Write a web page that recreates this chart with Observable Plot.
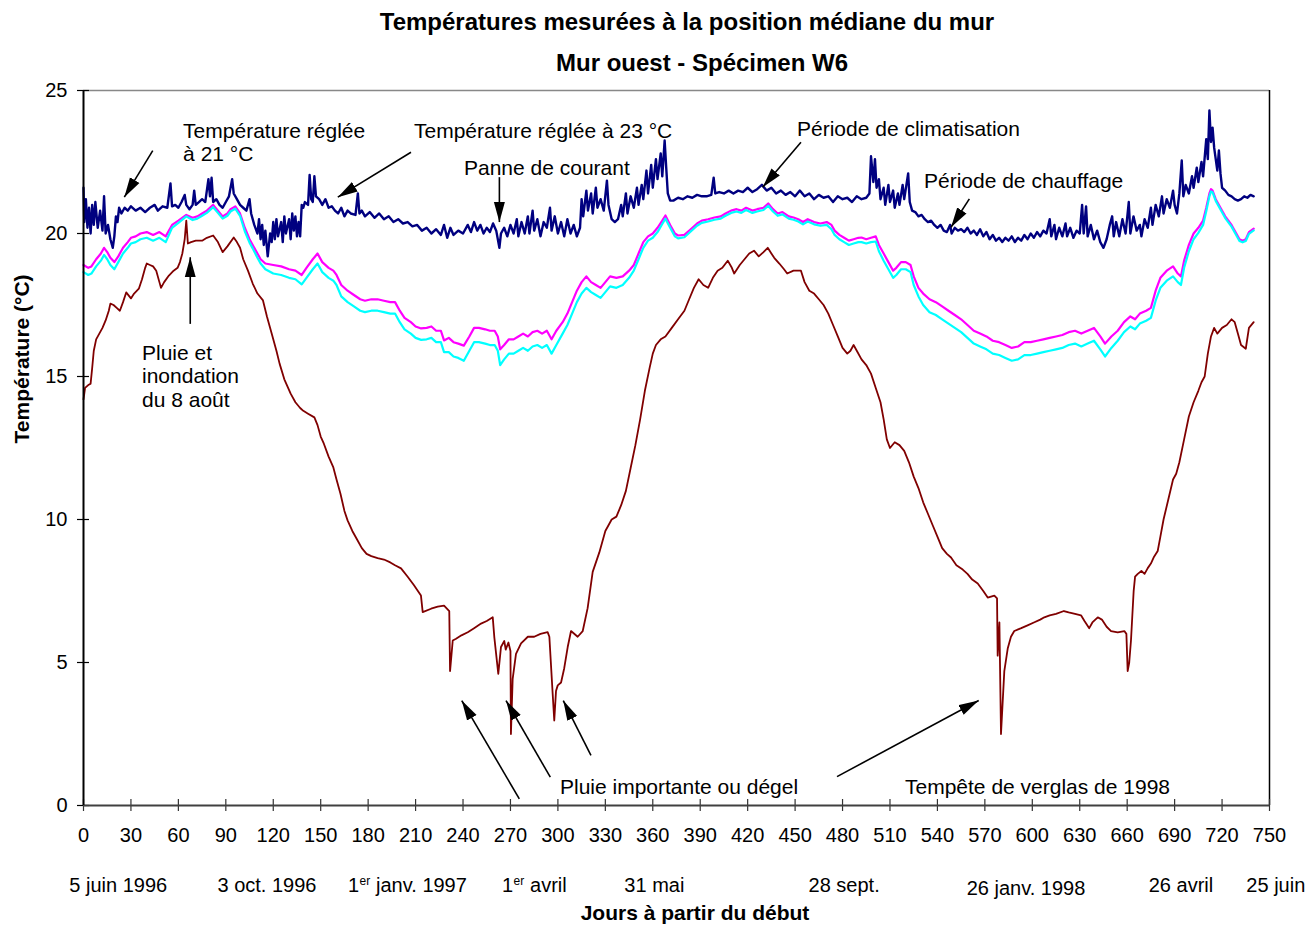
<!DOCTYPE html>
<html><head><meta charset="utf-8">
<script src="https://cdn.jsdelivr.net/npm/d3@7"></script>
<script src="https://cdn.jsdelivr.net/npm/@observablehq/plot@0.6"></script>
<style>
body{margin:0;background:#fff;font-family:Arial,"Liberation Sans",sans-serif;}
#wrap{position:relative;width:1310px;height:927px;}
.t{position:absolute;transform:translateX(-50%);white-space:nowrap;font-weight:bold;font-size:24px;line-height:24px;color:#000;}
#chart{position:absolute;left:0;top:80px;}
</style></head>
<body><div id="wrap">
<div class="t" style="left:687px;top:10px;">Températures mesurées à la position médiane du mur</div>
<div class="t" style="left:702px;top:51px;">Mur ouest - Spécimen W6</div>
<div id="chart"></div>
</div>
<script>
const xTicks = [0,30,60,90,120,150,180,210,240,270,300,330,360,390,420,450,480,510,540,570,600,630,660,690,720,750];
const yTicks = [0,5,10,15,20,25];

// [day, °C] — air/ambient side (dark blue)
const navy = [[0,21.6],[0.5,20.4],[1.5,21.2],[2.5,20.2],[3.5,20.9],[4.5,20.0],[5.5,21.0],[6.5,20.3],[7.5,21.1],[9,20.2],[10.5,20.8],[12,20.1],[13,21.3],[14,20.0],[15.5,20.3],[17,19.8],[18.5,19.5],[19.5,19.9],[20.5,20.6],[21.5,20.4],[22.5,20.9],[24,20.7],[26,20.9],[28,20.8],[30,20.95],[33,20.8],[36,20.9],[39,20.75],[42,20.9],[45,21.0],[47,20.8],[50,20.95],[53,20.9],[55,21.75],[56,20.95],[58,21.0],[60,20.9],[62,21.1],[64,21.35],[65,21.0],[67,20.85],[69,21.0],[70,21.5],[71,21.0],[73,21.1],[75,21.2],[77,21.1],[79,21.9],[80,21.3],[81,21.95],[82,21.1],[84,21.2],[86,21.0],[88,20.9],[90,21.1],[92,21.3],[94,21.9],[95,21.4],[97,21.2],[99,21.0],[101,20.9],[103,20.8],[105,21.2],[106,20.7],[108,20.3],[110,20.0],[111,20.5],[112,19.8],[113,20.3],[114,19.6],[115,20.1],[116.5,19.2],[118,20.0],[119,19.7],[120,20.4],[121,19.8],[122,20.5],[123,19.9],[125,20.4],[126,19.7],[127,20.6],[128,20.0],[130,20.5],[131,19.8],[132,20.7],[133,20.1],[134,20.6],[135,19.9],[136,20.4],[137,19.9],[138,21.0],[139,20.9],[140,21.1],[142,21.0],[143,22.05],[144,21.2],[145,21.1],[146,22.0],[147,21.3],[149,21.2],[151,21.0],[153,21.2],[155,20.9],[157,20.95],[159,20.8],[161,20.7],[163,20.9],[165,20.6],[167,20.8],[169,20.7],[172,20.65],[173.5,21.4],[174.5,20.7],[176,20.8],[178,20.6],[181,20.75],[184,20.55],[187,20.7],[190,20.5],[193,20.6],[196,20.4],[199,20.5],[202,20.35],[205,20.4],[208,20.25],[211,20.3],[214,20.1],[217,20.2],[220,20.0],[223,20.15],[226,19.95],[228,20.3],[230,19.85],[232,20.2],[234,19.95],[237,20.1],[240,20.0],[243,20.3],[245,20.05],[247,20.4],[249,20.1],[251,20.3],[253,20.0],[255,20.2],[257,20.05],[259,20.35],[261,20.1],[263,19.5],[264,20.0],[266,20.2],[268,19.9],[270,20.3],[272,20.0],[274,20.5],[275,19.9],[277,20.4],[279,20.0],[281,20.6],[282,20.0],[284,20.8],[285,20.1],[287,20.5],[289,19.9],[291,20.4],[293,20.2],[295,20.9],[296,20.1],[298,20.6],[300,20.0],[302,20.4],[304,19.9],[306,20.5],[308,20.0],[310,20.3],[312,19.9],[314,20.2],[315,21.2],[316,20.6],[318,21.5],[319,20.8],[321,21.4],[322,20.7],[324,21.6],[325,20.9],[327,21.2],[329,20.8],[331,21.85],[332,21.0],[334,20.5],[336,20.4],[338,20.5],[340,21.0],[341,20.6],[343,21.4],[344,20.7],[346,21.3],[348,20.9],[350,21.6],[351,21.0],[353,21.7],[354,21.2],[356,22.2],[357,21.4],[359,22.4],[360,21.6],[362,22.6],[363,21.9],[365,22.8],[366,22.0],[367.5,23.25],[368.5,22.3],[369.5,21.4],[371,21.15],[373,21.15],[376,21.25],[379,21.2],[382,21.3],[385,21.25],[388,21.35],[391,21.3],[394,21.3],[397,21.35],[398.5,21.95],[399.5,21.4],[402,21.45],[405,21.4],[408,21.5],[411,21.4],[414,21.5],[417,21.45],[420,21.6],[423,21.45],[426,21.55],[429,21.7],[432,21.5],[435,21.6],[438,21.4],[441,21.5],[444,21.35],[447,21.45],[450,21.3],[453,21.5],[456,21.3],[459,21.4],[462,21.2],[465,21.35],[468,21.25],[471,21.3],[474,21.1],[477,21.3],[480,21.2],[483,21.25],[486,21.1],[489,21.3],[492,21.2],[495,21.25],[497,21.4],[498,22.7],[499.5,21.8],[500.5,22.6],[501.5,21.6],[503,21.9],[504,21.2],[506,21.6],[507,21.0],[509,21.7],[510,21.1],[512,21.5],[513,20.9],[515,21.4],[516,21.0],[518,21.7],[519,21.2],[521.5,22.1],[522.5,21.1],[524,20.8],[526,20.75],[528,20.6],[530,20.65],[532,20.5],[534,20.4],[536,20.45],[538,20.3],[540,20.2],[542,20.3],[544,20.1],[546,20.05],[548,20.3],[549,20.0],[551,20.2],[553,20.1],[555,20.15],[557,20.05],[559,20.2],[561,20.0],[563,20.1],[565,19.95],[567,20.15],[569,19.9],[571,20.05],[573,19.8],[575,19.95],[577,19.75],[579,19.85],[581,19.7],[583,19.85],[585,19.75],[587,19.9],[589,19.7],[591,19.85],[593,19.75],[595,19.95],[597,19.8],[599,20.0],[601,19.85],[603,20.05],[605,19.9],[607,20.1],[609,20.0],[611,20.5],[612,19.9],[614,20.3],[615,19.8],[617,20.2],[619,19.9],[621,20.35],[622,19.9],[624,20.2],[626,19.85],[628,20.1],[630,20.0],[631.5,21.0],[632.5,20.0],[634,20.95],[635,19.9],[637,20.3],[639,19.8],[641,20.1],[643,19.7],[645,19.5],[647,19.8],[649,20.3],[650.5,20.6],[651.5,19.9],[653,20.4],[655,19.9],[657,20.5],[659,20.0],[661,21.1],[662,20.0],[664,20.6],[666,20.1],[668,20.3],[669,19.9],[671,20.5],[673,20.2],[675,20.9],[676,20.3],[678,21.0],[680,20.6],[682,21.3],[683,20.7],[685,21.2],[687,20.9],[689,21.5],[690,21.0],[691.5,20.7],[693,21.4],[694.5,22.55],[695.5,21.3],[697,21.7],[699,21.4],[701,22.0],[702,21.6],[704,22.3],[705,21.8],[707,22.5],[708,22.0],[710,23.3],[711,22.6],[712,24.3],[713,23.2],[714,23.7],[715,23.0],[716,22.6],[717,22.2],[718,22.9],[719,22.1],[720,21.6],[722,21.5],[724,21.35],[726,21.3],[728,21.2],[730,21.15],[732,21.2],[734,21.3],[736,21.25],[738,21.35],[740,21.3]];

// [day, °C] — magenta
const magenta = [[0,18.9],[3,18.8],[5,18.85],[8,19.1],[11,19.3],[13,19.5],[15,19.35],[17,19.15],[19.5,19.0],[22,19.2],[25,19.5],[28,19.7],[30,19.85],[33,19.9],[36,20.0],[40,20.05],[44,19.95],[48,20.05],[52,19.9],[56,20.3],[60,20.45],[65,20.65],[69,20.55],[72,20.6],[75,20.7],[78,20.8],[82,21.0],[85,20.8],[88,20.6],[91,20.7],[93,20.85],[96,20.95],[99,20.7],[102,20.2],[105,19.8],[107,19.6],[110,19.3],[112,19.1],[115,18.95],[120,18.9],[125,18.85],[130,18.75],[134,18.7],[138,18.55],[141,18.8],[145,19.1],[148,19.3],[151,19.0],[155,18.8],[158,18.7],[160,18.55],[163,18.2],[167,18.0],[171,17.85],[175,17.7],[178,17.65],[182,17.7],[186,17.7],[190,17.65],[194,17.6],[197,17.6],[200,17.3],[203,17.05],[207,16.9],[210,16.75],[213.5,16.68],[217,16.7],[220,16.75],[223,16.6],[226,16.6],[228,16.26],[231,16.35],[234,16.2],[237,16.15],[240.5,16.08],[244,16.4],[247,16.7],[250,16.7],[254,16.65],[257,16.6],[260,16.6],[262,16.4],[263.5,15.95],[266,16.1],[269,16.3],[272,16.3],[275,16.4],[278,16.5],[281,16.4],[284,16.55],[287,16.6],[290,16.5],[293,16.6],[296,16.3],[299,16.6],[303,16.9],[306,17.2],[309,17.6],[312,18.0],[315,18.3],[318,18.5],[321,18.3],[324,18.2],[327,18.1],[330,18.3],[333,18.5],[337,18.45],[341,18.5],[345,18.7],[348,18.9],[351,19.3],[354,19.7],[357,19.9],[360,20.0],[363,20.2],[366,20.45],[368,20.63],[371,20.3],[374,20.0],[376,19.93],[380,19.95],[384,20.15],[388,20.35],[391,20.45],[395,20.5],[399,20.56],[403,20.6],[406,20.7],[409.5,20.8],[413,20.85],[416,20.8],[419,20.9],[423,20.8],[426,20.85],[430,20.9],[433,21.05],[436,20.85],[439,20.7],[442,20.75],[446,20.6],[449,20.56],[452,20.5],[455,20.4],[458,20.5],[462,20.4],[466,20.35],[470,20.4],[473,20.3],[475,20.1],[478,19.95],[481,19.85],[484,19.75],[487,19.8],[490,19.85],[492,19.86],[495,19.8],[498,19.85],[501,19.9],[503,19.6],[506,19.3],[509,19.0],[512,18.7],[514,18.8],[517,19.0],[520,19.0],[523,18.9],[525,18.5],[528,18.1],[531,17.9],[535,17.7],[539,17.6],[543,17.45],[547,17.3],[551,17.15],[555,17.0],[559,16.8],[563,16.6],[567,16.5],[571,16.4],[575,16.25],[579,16.2],[583,16.1],[587,16.0],[591,16.05],[595,16.2],[599,16.2],[603,16.25],[607,16.3],[611,16.35],[615,16.4],[619,16.45],[623,16.55],[627,16.6],[631,16.5],[635,16.6],[639,16.7],[643,16.4],[646,16.15],[650,16.4],[654,16.6],[658,16.9],[662,17.1],[665,17.0],[668,17.2],[672,17.3],[675,17.4],[678,18.0],[681,18.45],[685,18.7],[689,18.85],[692,18.6],[694,18.5],[696,19.05],[699,19.6],[702,20.0],[705,20.2],[708,20.45],[710,20.9],[712,21.4],[713,21.55],[714,21.5],[716,21.2],[719,20.9],[722,20.6],[726,20.3],[729,20.0],[731,19.8],[733,19.75],[735,19.8],[737,20.05],[740,20.17]];

// [day, °C] — cyan
const cyan = [[0,18.65],[3,18.55],[5,18.6],[8,18.85],[11,19.05],[13,19.25],[15,19.1],[17,18.9],[19.5,18.75],[22,19.0],[25,19.3],[28,19.5],[30,19.65],[33,19.7],[36,19.8],[40,19.85],[44,19.75],[48,19.85],[52,19.7],[56,20.2],[60,20.37],[65,20.6],[69,20.47],[72,20.52],[75,20.62],[78,20.72],[82,20.92],[85,20.72],[88,20.52],[91,20.62],[93,20.77],[96,20.87],[99,20.62],[102,20.08],[105,19.68],[107,19.48],[110,19.15],[112,18.95],[115,18.75],[120,18.6],[125,18.55],[130,18.45],[134,18.4],[138,18.22],[141,18.45],[145,18.75],[148,18.95],[151,18.65],[155,18.45],[158,18.35],[160,18.2],[163,17.8],[167,17.6],[171,17.45],[175,17.3],[178,17.25],[182,17.3],[186,17.3],[190,17.25],[194,17.2],[197,17.2],[200,16.9],[203,16.65],[207,16.5],[210,16.35],[213.5,16.28],[217,16.3],[220,16.35],[223,16.2],[226,16.2],[228,15.85],[231,15.85],[234,15.7],[237,15.65],[240.5,15.55],[244,15.9],[247,16.2],[250,16.2],[254,16.15],[257,16.1],[260,16.1],[262,15.9],[263.5,15.4],[266,15.6],[269,15.8],[272,15.8],[275,15.9],[278,16.0],[281,15.9],[284,16.05],[287,16.1],[290,16.0],[293,16.1],[296,15.8],[299,16.1],[303,16.5],[306,16.8],[309,17.2],[312,17.6],[315,17.9],[318,18.1],[321,17.95],[324,17.85],[327,17.75],[330,17.95],[333,18.15],[337,18.1],[341,18.2],[345,18.45],[348,18.7],[351,19.1],[354,19.5],[357,19.75],[360,19.85],[363,20.05],[366,20.33],[368,20.52],[371,20.2],[374,19.9],[376,19.83],[380,19.87],[384,20.07],[388,20.27],[391,20.37],[395,20.42],[399,20.48],[403,20.52],[406,20.62],[409.5,20.72],[413,20.77],[416,20.72],[419,20.82],[423,20.72],[426,20.77],[430,20.82],[433,20.97],[436,20.77],[439,20.62],[442,20.67],[446,20.52],[449,20.48],[452,20.42],[455,20.32],[458,20.42],[462,20.32],[466,20.27],[470,20.3],[473,20.15],[475,19.95],[478,19.8],[481,19.7],[484,19.6],[487,19.65],[490,19.7],[492,19.7],[495,19.65],[498,19.7],[501,19.72],[503,19.38],[506,19.05],[509,18.75],[512,18.45],[514,18.55],[517,18.75],[520,18.75],[523,18.65],[525,18.2],[528,17.8],[531,17.5],[535,17.25],[539,17.15],[543,17.0],[547,16.85],[551,16.7],[555,16.55],[559,16.35],[563,16.15],[567,16.05],[571,15.95],[575,15.8],[579,15.75],[583,15.65],[587,15.55],[591,15.6],[595,15.75],[599,15.75],[603,15.8],[607,15.85],[611,15.9],[615,15.95],[619,16.0],[623,16.1],[627,16.15],[631,16.05],[635,16.15],[639,16.25],[643,15.95],[646,15.7],[650,16.0],[654,16.25],[658,16.55],[662,16.75],[665,16.65],[668,16.85],[672,16.95],[675,17.05],[678,17.65],[681,18.1],[685,18.35],[689,18.5],[692,18.3],[694,18.2],[696,18.8],[699,19.38],[702,19.8],[705,20.02],[708,20.3],[710,20.78],[712,21.3],[713,21.47],[714,21.44],[716,21.14],[719,20.84],[722,20.54],[726,20.24],[729,19.94],[731,19.74],[733,19.69],[735,19.74],[737,19.99],[740,20.11]];

// [day, °C] — dark red
const darkred = [[0,14.2],[1,14.6],[3,14.7],[4.5,14.75],[5.5,15.3],[6.5,15.9],[8,16.3],[10,16.5],[12,16.7],[14,16.96],[16,17.3],[17,17.55],[19,17.5],[21,17.4],[23,17.3],[25,17.6],[27,17.94],[29,17.8],[30,17.73],[32,17.9],[35,18.07],[37,18.4],[39,18.8],[40,18.95],[42,18.9],[44,18.85],[46,18.7],[48,18.3],[49,18.1],[51,18.3],[54,18.53],[57,18.7],[59.5,18.8],[61,19.0],[62.5,19.3],[64,19.8],[65,20.45],[66,19.65],[68,19.7],[71,19.75],[75,19.75],[78,19.85],[82,19.93],[85,19.7],[88,19.35],[91,19.55],[95,19.86],[97,19.7],[99,19.5],[101,19.1],[104,18.7],[107,18.25],[110,17.9],[113.5,17.66],[116,17.1],[119,16.5],[122,15.9],[124,15.45],[127,14.9],[131,14.4],[134,14.1],[137,13.9],[139,13.8],[142,13.7],[146,13.57],[148,13.3],[150,12.9],[152,12.65],[155,12.2],[158,11.82],[160,11.4],[162.5,10.9],[165,10.3],[167,9.97],[170,9.6],[173,9.3],[176,9.0],[179,8.8],[182,8.72],[186,8.65],[190,8.6],[194,8.5],[197,8.4],[200.8,8.29],[205,8.0],[209,7.7],[213.4,7.34],[214.5,6.76],[219.8,6.88],[224,6.95],[228,6.99],[231.3,6.8],[231.8,4.7],[233.5,5.77],[235.6,5.83],[239,5.95],[243,6.06],[247,6.2],[251.4,6.36],[255,6.45],[258.8,6.58],[259.8,5.88],[262.3,4.6],[264,5.54],[266.1,5.75],[267,5.45],[268.7,5.7],[270,5.4],[270.3,2.5],[271.4,4.43],[273.5,5.3],[276.7,5.67],[281,5.9],[285,5.9],[289,6.0],[293.5,6.06],[294.6,5.9],[296.7,3.9],[297.7,2.97],[298.8,4.0],[299.9,4.2],[302,4.3],[304,4.8],[306.2,5.54],[308.3,6.1],[312.5,5.9],[315.7,6.1],[318.8,6.9],[322,8.17],[326.2,8.85],[330,9.6],[334,10.0],[337,10.1],[340,10.5],[343,11.0],[346,11.8],[349,12.6],[352,13.5],[355,14.5],[358,15.3],[360,15.8],[362,16.1],[365,16.3],[368,16.4],[372,16.7],[376,17.0],[380,17.3],[383,17.7],[386,18.1],[389,18.4],[392,18.2],[395,18.1],[398,18.45],[401,18.7],[404,18.8],[407.4,19.05],[410,18.8],[411.5,18.6],[415,18.9],[418,19.1],[421,19.3],[424,19.4],[427,19.2],[430,19.35],[432.7,19.5],[435,19.3],[436.8,19.15],[440,18.95],[443,18.75],[445,18.6],[449,18.7],[453.7,18.7],[456,18.3],[459,18.0],[462,17.9],[465,17.7],[468,17.5],[471,17.2],[474,16.8],[477,16.4],[480,16.0],[483,15.8],[485,15.9],[487,16.1],[489,15.9],[492,15.6],[495,15.4],[498,15.1],[501,14.6],[504,14.1],[506,13.5],[508,12.8],[510,12.5],[513,12.7],[516,12.6],[519,12.4],[522,12.0],[525,11.5],[528,11.1],[531,10.6],[534,10.2],[537,9.8],[540,9.4],[543,9.0],[546,8.8],[548.6,8.67],[552,8.4],[556,8.25],[559,8.1],[562,7.9],[565.5,7.76],[569,7.5],[571.8,7.27],[576,7.34],[577.7,7.24],[578.1,5.24],[579.2,6.4],[580.2,2.5],[582.3,4.7],[584.5,5.5],[586.5,5.9],[588.6,6.1],[593,6.2],[597,6.3],[601,6.4],[605,6.5],[607.6,6.58],[611,6.65],[615,6.7],[620,6.8],[623,6.75],[627,6.7],[630.8,6.65],[633,6.45],[636,6.2],[638,6.4],[641.4,6.58],[644,6.5],[647,6.25],[649.8,6.1],[654,6.05],[658.2,6.1],[659.5,6.0],[660.3,4.7],[661.3,5.0],[662.4,5.77],[664.1,7.5],[665,8.0],[666.7,8.1],[669,8.2],[671,8.1],[673,8.3],[675,8.46],[677,8.7],[679.3,8.9],[681,9.4],[683,10.0],[686,10.7],[689,11.4],[691,11.6],[693,12.0],[696,12.8],[699,13.6],[702,14.1],[705,14.5],[707,14.8],[709,15.0],[711,15.8],[713,16.4],[715,16.7],[717,16.5],[720,16.7],[723,16.8],[726,17.0],[728,16.9],[730,16.5],[732,16.1],[735,15.97],[737,16.7],[740,16.9]];

// Date labels under the day axis
const dateLabels = [{day:22,label:"5 juin 1996",row:0},{day:116,label:"3 oct. 1996",row:0},{day:361,label:"31 mai",row:0},{day:481,label:"28 sept.",row:0},{day:596,label:"26 janv. 1998",row:1},{day:694,label:"26 avril",row:0},{day:754,label:"25 juin",row:0}];
const dateSupLabels = [{day:167.3,first:"1",sup:"er",rest:"janv. 1997"},{day:264.7,first:"1",sup:"er",rest:"avril"}];

// Annotations (text anchored at start)
const notes = [
  {day:63.0,temp:23.2,text:"Température réglée\nà 21 °C"},
  {day:209.0,temp:23.6,text:"Température réglée à 23 °C"},
  {day:240.6,temp:22.31,text:"Panne de courant"},
  {day:451.2,temp:23.67,text:"Période de climatisation"},
  {day:531.5,temp:21.85,text:"Période de chauffage"},
  {day:37.0,temp:15.03,text:"Pluie et\ninondation\ndu 8 août"},
  {day:301.3,temp:0.66,text:"Pluie importante ou dégel"},
  {day:519.5,temp:0.66,text:"Tempête de verglas de 1998"}
];
const arrows = [
  {x1:43.8,y1:22.9,x2:25.8,y2:21.27},
  {x1:207.1,y1:22.84,x2:160.8,y2:21.27},
  {x1:263.0,y1:21.97,x2:263.0,y2:20.40},
  {x1:453.7,y1:23.19,x2:429.5,y2:21.62},
  {x1:560.2,y1:21.21,x2:548.6,y2:20.22},
  {x1:67.5,y1:16.84,x2:67.5,y2:19.17},
  {x1:275.6,y1:0.23,x2:239.2,y2:3.67},
  {x1:295.2,y1:0.99,x2:267.2,y2:3.67},
  {x1:320.9,y1:1.75,x2:303.4,y2:3.67},
  {x1:476.5,y1:1.01,x2:566.1,y2:3.67}
];

const rows = (a) => a.map(([day, temp]) => ({day, temp}));

function arrowHead(color, context) {
  const doc = (context && context.document) || document;
  const ns = "http://www.w3.org/2000/svg";
  const m = doc.createElementNS(ns, "marker");
  m.setAttribute("viewBox", "-20 -6 20 12");
  m.setAttribute("markerWidth", "20");
  m.setAttribute("markerHeight", "12");
  m.setAttribute("markerUnits", "userSpaceOnUse");
  m.setAttribute("orient", "auto");
  const p = doc.createElementNS(ns, "path");
  p.setAttribute("d", "M-20,-5.5L0,0L-20,5.5Z");
  p.setAttribute("fill", color);
  p.setAttribute("stroke", "none");
  m.appendChild(p);
  return m;
}

function build(marker) {
  return Plot.plot({
    width: 1310, height: 847,
    marginLeft: 83, marginRight: 41, marginTop: 10, marginBottom: 122,
    x: {domain: [0, 750]},
    y: {domain: [0, 25]},
    style: {fontFamily: "Arial, 'Liberation Sans', sans-serif", fontSize: "20px", color: "#000", background: "#fff", overflow: "visible"},
    marks: [
      Plot.ruleY([25], {stroke: "#888", strokeWidth: 1.5}),
      Plot.ruleX([750], {stroke: "#000", strokeWidth: 1.5}),
      Plot.line(rows(darkred), {x: "day", y: "temp", stroke: "#800000", strokeWidth: 1.8}),
      Plot.line(rows(magenta), {x: "day", y: "temp", stroke: "#ff00ff", strokeWidth: 2.2}),
      Plot.line(rows(cyan), {x: "day", y: "temp", stroke: "#00ffff", strokeWidth: 2.2}),
      Plot.line(rows(navy), {x: "day", y: "temp", stroke: "#000080", strokeWidth: 2.4}),
      Plot.tickX(xTicks, {x: d => d, insetTop: 709, insetBottom: -6, stroke: "#333", strokeWidth: 1.2}),
      Plot.tickY(yTicks, {y: d => d, insetLeft: -6, insetRight: 1180, stroke: "#000", strokeWidth: 1.2}),
      Plot.ruleY([0], {stroke: "#404040", strokeWidth: 2}),
      Plot.ruleX([0], {stroke: "#000", strokeWidth: 2}),
      Plot.axisX(xTicks, {tickSize: 0, tickPadding: 22, fontSize: 20, label: null}),
      Plot.axisY(yTicks, {tickSize: 0, tickPadding: 16, fontSize: 20, label: null}),
      Plot.text(dateLabels.filter(d => d.row === 0), {x: "day", text: "label", frameAnchor: "bottom", dy: 86, fontSize: 20}),
      Plot.text(dateLabels.filter(d => d.row === 1), {x: "day", text: "label", frameAnchor: "bottom", dy: 89, fontSize: 20}),
      Plot.text(dateSupLabels, {x: "day", text: "first", frameAnchor: "bottom", dy: 86, textAnchor: "start", fontSize: 20}),
      Plot.text(dateSupLabels, {x: "day", text: "sup", frameAnchor: "bottom", dy: 79, dx: 11.5, textAnchor: "start", fontSize: 12}),
      Plot.text(dateSupLabels, {x: "day", text: "rest", frameAnchor: "bottom", dy: 86, dx: 28, textAnchor: "start", fontSize: 20}),
      Plot.text(["Jours à partir du début"], {x: 386.7, frameAnchor: "bottom", dy: 114, text: d => d, fontSize: 21, fontWeight: "bold"}),
      Plot.text(["Température (°C)"], {y: 12.66, frameAnchor: "left", dx: -61, rotate: -90, text: d => d, fontSize: 21, fontWeight: "bold"}),
      Plot.text(notes, {x: "day", y: "temp", text: "text", textAnchor: "start", lineAnchor: "middle", lineHeight: 1.12, fontSize: 21}),
      Plot.link(arrows, {x1: "x1", y1: "y1", x2: "x2", y2: "y2", stroke: "#000", strokeWidth: 1.6, markerEnd: marker})
    ]
  });
}

let chart;
try { chart = build(arrowHead); } catch (e) { chart = build("arrow"); }
document.getElementById("chart").appendChild(chart);
</script>
</body></html>
